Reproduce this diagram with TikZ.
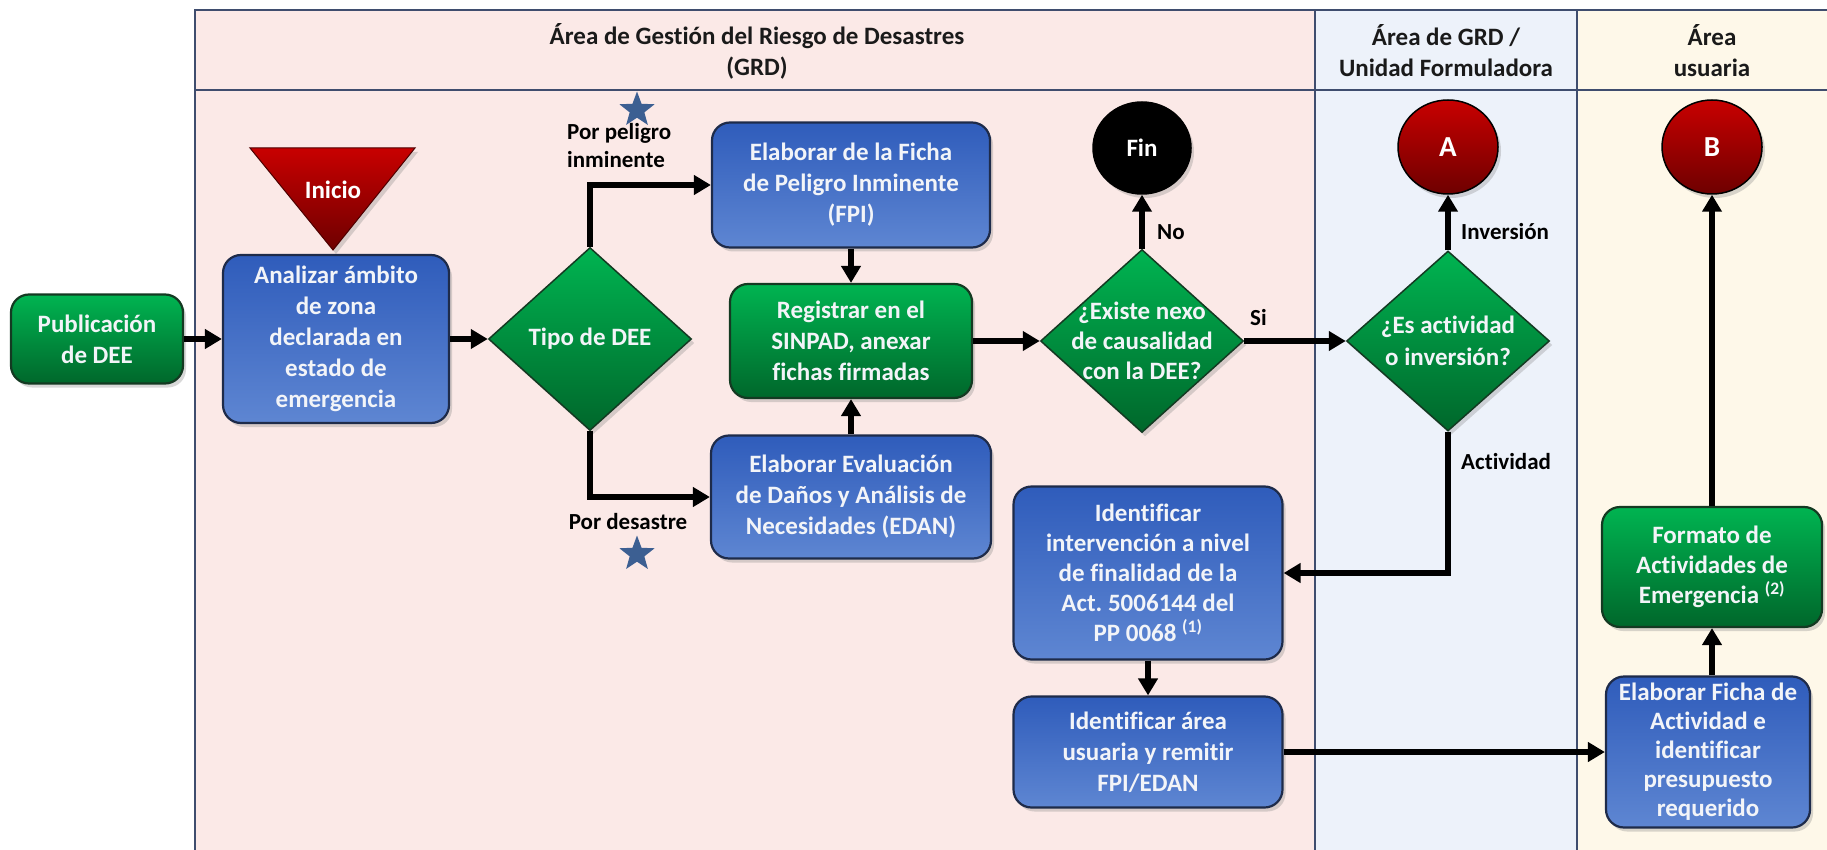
\documentclass[tikz,border=0pt]{standalone}
\usepackage{fontspec}
\setmainfont{Carlito}[Ligatures=NoCommon,RawFeature={-liga;-dlig;-calt}]
\usetikzlibrary{arrows.meta,shadows,shapes.geometric}
\definecolor{lanepink}{HTML}{FBE9E7}
\definecolor{laneblue}{HTML}{EDF2FA}
\definecolor{lanecream}{HTML}{FEF8E9}
\definecolor{framec}{HTML}{3F4D6E}
\definecolor{bluetop}{HTML}{2F5CBB}
\definecolor{bluebot}{HTML}{5E86D2}
\definecolor{blueline}{HTML}{1E2B4A}
\definecolor{greentop}{HTML}{00B451}
\definecolor{greenbot}{HTML}{00672B}
\definecolor{greenline}{HTML}{143A22}
\definecolor{redtop}{HTML}{C80000}
\definecolor{redbot}{HTML}{6E0000}
\definecolor{starc}{HTML}{3C5F92}
\definecolor{boxtext}{HTML}{F2F4F8}
\definecolor{hdrtext}{HTML}{1A1A1A}
\begin{document}
\frenchspacing
\begin{tikzpicture}[x=1pt,y=-1pt,
  shad/.style={drop shadow={shadow xshift=3pt,shadow yshift=-4pt,opacity=0.3}},
  box/.style={rounded corners=18pt,line width=2.2pt,align=center,text=boxtext,
    font=\fontsize{25}{31}\selectfont\bfseries,inner sep=0pt,shad},
  bluebox/.style={box,draw=blueline,top color=bluetop,bottom color=bluebot},
  greenbox/.style={box,draw=greenline,top color=greentop,bottom color=greenbot},
  decision/.style={diamond,draw=greenline,line width=1.5pt,top color=greentop,
    bottom color=greenbot,inner sep=0pt,shad,minimum width=203pt,minimum height=183pt},
  dtext/.style={align=center,text=boxtext,font=\fontsize{25}{30}\selectfont\bfseries,inner sep=0pt},
  terminal/.style={ellipse,draw=black,line width=1.5pt,inner sep=0pt,text=white,shad,
    minimum width=100pt,minimum height=94pt},
  redterm/.style={terminal,top color=redtop,bottom color=redbot,font=\fontsize{29}{29}\selectfont\bfseries},
  flow/.style={line width=5.5pt,-{Triangle[length=17pt,width=19pt]}},
  lbl/.style={font=\fontsize{23}{28}\selectfont\bfseries,text=black,inner sep=0pt},
  hdr/.style={font=\fontsize{25}{31}\selectfont\bfseries,text=hdrtext,align=center,inner sep=0pt},
  starsym/.style={star,star points=5,star point ratio=2.4,fill=starc,inner sep=0pt,minimum size=37pt},
  lane/.style={draw=framec,line width=2pt}
]
\clip (0,0) rectangle (1827,850);
\fill[white] (0,0) rectangle (1827,850);
% lanes
\fill[lanepink] (195,10) rectangle (1315,870);
\fill[laneblue] (1315,10) rectangle (1577,870);
\fill[lanecream] (1577,10) rectangle (1850,870);
\draw[lane] (1850,10) -- (195,10) -- (195,870);
\draw[lane] (195,90) -- (1850,90);
\draw[lane] (1315,10) -- (1315,870);
\draw[lane] (1577,10) -- (1577,870);
% headers
\node[hdr] (h1) at (757,51) {Área de Gestión del Riesgo de Desastres\\(GRD)};
\node[hdr] (h2) at (1446,51) {Área de GRD /\\Unidad Formuladora};
\node[hdr] (h3) at (1712,51) {Área\\usuaria};
% start triangle
\path[draw=redbot!70!black,line width=1pt,top color=redtop,bottom color=redbot,shad]
  (250,148) -- (415,148) -- (333,250) -- cycle;
\node[dtext,text=white] (inicio) at (333,190) {Inicio};
% nodes
\node[greenbox,minimum width=172pt,minimum height=89pt] (pub) at (97,339) {Publicación\\de DEE};
\node[bluebox,minimum width=226pt,minimum height=168pt] (anal) at (336,339)
  {Analizar ámbito\\de zona\\declarada en\\estado de\\emergencia};
\node[decision,label={[dtext]center:Tipo de DEE}] (tipo) at (590,339) {};
\node[bluebox,minimum width=278pt,minimum height=125pt] (fpi) at (851,185)
  {Elaborar de la Ficha\\de Peligro Inminente\\(FPI)};
\node[greenbox,minimum width=242pt,minimum height=114pt] (reg) at (851,341)
  {Registrar en el\\SINPAD, anexar\\fichas firmadas};
\node[bluebox,minimum width=280pt,minimum height=123pt] (edan) at (851,497)
  {Elaborar Evaluación\\de Daños y Análisis de\\Necesidades (EDAN)};
\node[terminal,fill=black,font=\fontsize{25}{25}\selectfont\bfseries,minimum width=98pt,minimum height=92pt] (fin) at (1142,148) {Fin};
\node[decision,label={[dtext]center:{¿Existe nexo\\de causalidad\\con la DEE?}}] (nexo) at (1142,341) {};
\node[decision,minimum height=180pt,label={[dtext,font=\fontsize{25}{32}\selectfont\bfseries]center:{¿Es actividad\\o inversión?}}] (esact) at (1448,341) {};
\node[redterm] (ca) at (1448,147) {A};
\node[redterm] (cb) at (1712,147) {B};
\node[bluebox,minimum width=269pt,minimum height=173pt,font=\fontsize{25}{30}\selectfont\bfseries] (interv) at (1148,573)
  {Identificar\\intervención a nivel\\de finalidad de la\\Act. 5006144 del\\PP 0068 \textsuperscript{(1)}};
\node[bluebox,minimum width=269pt,minimum height=111pt] (area) at (1148,752)
  {Identificar área\\usuaria y remitir\\FPI/EDAN};
\node[greenbox,minimum width=220pt,minimum height=120pt,font=\fontsize{25}{30}\selectfont\bfseries] (formato) at (1712,567)
  {Formato de\\Actividades de\\Emergencia \textsuperscript{(2)}};
\node[bluebox,minimum width=204pt,minimum height=151pt,font=\fontsize{25}{29}\selectfont\bfseries] (ficha) at (1708,752)
  {Elaborar Ficha de\\Actividad e\\identificar\\presupuesto\\requerido};
% stars
\node[starsym] (star1) at (637,110) {};
\node[starsym] (star2) at (637,554) {};
% labels
\node[lbl,anchor=west,align=left] (lpel) at (567,146) {Por peligro\\inminente};
\node[lbl] (ldes) at (628,522) {Por desastre};
\node[lbl,anchor=west] (lno) at (1157,232) {No};
\node[lbl,anchor=west] (lsi) at (1250,318) {Si};
\node[lbl,anchor=west] (linv) at (1461,232) {Inversión};
\node[lbl,anchor=west] (lact) at (1461,462) {Actividad};
% connectors
\draw[flow] (pub) -- (anal);
\draw[flow] (anal) -- (tipo);
\draw[flow] (tipo.north) |- (fpi.west);
\draw[flow] (tipo.south) |- (edan.west);
\draw[flow] (fpi) -- (reg);
\draw[flow] (edan) -- (reg);
\draw[flow] (reg) -- (nexo);
\draw[flow] (nexo.north) -- (fin.south);
\draw[flow] (nexo.east) -- (esact.west);
\draw[flow] (esact.north) -- (ca.south);
\draw[flow] (esact.south) |- (interv.east);
\draw[flow] (interv) -- (area);
\draw[flow] (area.east) -- (ficha.west);
\draw[flow] (ficha.north -| formato.south) -- (formato.south);
\draw[flow] (formato.north) -- (cb.south);
\end{tikzpicture}
\end{document}
